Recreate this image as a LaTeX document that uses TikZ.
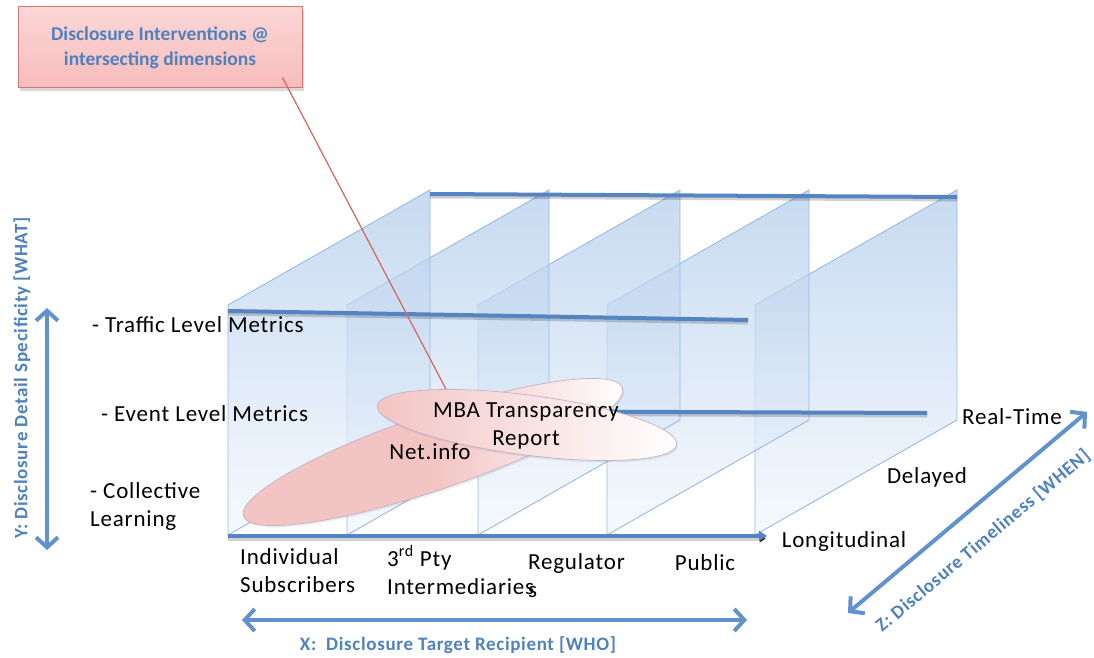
\documentclass[tikz,border=0pt]{standalone}
\usepackage{fontspec}
\setmainfont{Carlito}
\newfontfamily\widefont{Carlito}[LetterSpace=3.5]
\usetikzlibrary{arrows.meta,shadows,calc}

\definecolor{planeedge}{RGB}{150,186,226}
\definecolor{planetop}{RGB}{176,203,235}
\definecolor{planelow}{RGB}{242,247,253}
\definecolor{rulerblue}{RGB}{84,132,194}
\definecolor{axisblue}{RGB}{98,146,206}
\definecolor{labelblue}{RGB}{79,129,189}
\definecolor{boxtop}{RGB}{252,214,214}
\definecolor{boxbot}{RGB}{247,188,188}
\definecolor{boxedge}{RGB}{214,118,118}
\definecolor{pinred}{RGB}{214,102,92}
\definecolor{ovalpink}{RGB}{243,196,196}
\definecolor{ovaledge}{RGB}{196,176,196}

\begin{document}
\begin{tikzpicture}[x=1pt,y=-1pt,
  plane/.style={top color=planetop,bottom color=planelow,fill opacity=0.7,
    draw=planeedge,line width=0.9pt},
  ruler/.style={draw=rulerblue,line width=4pt,
    preaction={draw=black,draw opacity=0.18,line width=4pt,transform canvas={yshift=-2.5pt}}},
  axis/.style={draw=axisblue,line width=4pt,
    {Straight Barb[length=10pt,width=22pt]}-{Straight Barb[length=10pt,width=22pt]}},
  oval/.style={left color=ovalpink,right color=white,draw=ovaledge,line width=0.7pt,
    drop shadow={opacity=0.15,shadow xshift=1pt,shadow yshift=-2pt}},
  lab/.style={font=\widefont\fontsize{23}{28}\selectfont,inner sep=0pt,align=left},
  axislab/.style={font=\widefont\bfseries\fontsize{19}{23}\selectfont,text=labelblue,inner sep=0pt},
  calloutbox/.style={top color=boxtop,bottom color=boxbot,draw=boxedge,line width=1pt,
    minimum width=284pt,minimum height=81pt,align=center,text=labelblue,
    font=\bfseries\fontsize{19.5}{25}\selectfont,
    drop shadow={opacity=0.3,shadow xshift=2pt,shadow yshift=-3pt}}]
\useasboundingbox (0,0) rectangle (1094,658);

% recipient planes
\draw[plane] (755,305) -- (755,535) -- (957,420) -- (957,190) -- cycle;
\draw[plane] (607,305) -- (607,535) -- (809,420) -- (809,190) -- cycle;
\draw[plane] (478,305) -- (478,535) -- (680,420) -- (680,190) -- cycle;
\draw[plane] (347,305) -- (347,535) -- (549,420) -- (549,190) -- cycle;
\draw[plane] (228,305) -- (228,535) -- (430,420) -- (430,190) -- cycle;

% detail levels
\draw[ruler] (430,194) -- (957,197);
\draw[ruler] (228,311) -- (748,320);
\draw[ruler] (430,411) -- (927,413);
\draw[ruler,-{Triangle[length=8pt,width=10pt]}] (228,536) -- (767,536);

\node[calloutbox] (callout) at (160,47.5) {Disclosure Interventions @\\intersecting dimensions};
\coordinate (pin) at (448,393);
\draw[pinred,line width=1.2pt] ($(callout.south east)+(-20,-11)$) -- (pin);

\begin{scope}[shift={(433,452)},rotate=18.7]
\path[oval,middle color=ovalpink] (0,0) ellipse [x radius=200,y radius=38];
\end{scope}
\begin{scope}[shift={(527,425)},rotate=-7.4]
\path[oval] (0,0) ellipse [x radius=151,y radius=30];
\end{scope}

\node[lab] (netinfo) at (430,452) {Net.info};
\node[lab,align=center] (mba) at (526,426) {MBA Transparency\\Report};

\node[lab,anchor=west] (traffic) at (92,325) {- Traffic Level Metrics};
\node[lab,anchor=west] (event) at (101,414) {- Event Level Metrics};
\node[lab,anchor=west] (collective) at (90,506) {- Collective\\Learning};

\node[lab,anchor=west] (individual) at (240,571) {Individual\\Subscribers};
\node[lab,anchor=west] (thirdpty) at (387,570) {3\textsuperscript{rd} Pty\\Intermediaries};
\node[lab,anchor=west] (regulator) at (528,576) {Regulator\\s};
\node[lab] (public) at (705,563) {Public};

\node[lab] (longitudinal) at (844,541) {Longitudinal};
\node[lab] (delayed) at (927,477) {Delayed};
\node[lab] (realtime) at (1012,417) {Real-Time};

% axes
\coordinate (ytop) at (47,308);
\coordinate (ybot) at (47,550);
\coordinate (xleft) at (242,620);
\coordinate (xright) at (747,620);
\coordinate (znear) at (848,613);
\coordinate (zfar) at (1087,412);
\draw[axis] (ybot) -- (ytop);
\draw[axis] (xleft) -- (xright);
\draw[axis] (znear) -- (zfar);

\node[axislab,rotate=90] (ylabel) at (22,378) {Y: Disclosure Detail Specificity [WHAT]};
\node[axislab] (xlabel) at (458,645) {X:~~Disclosure Target Recipient [WHO]};
\node[axislab,rotate=40] (zlabel) at (983,541) {Z: Disclosure Timeliness [WHEN]};
\end{tikzpicture}
\end{document}
